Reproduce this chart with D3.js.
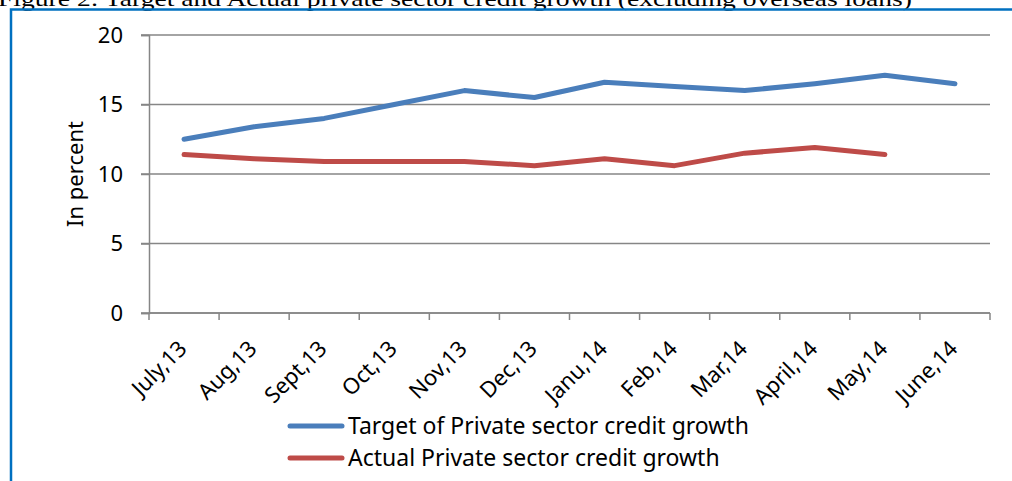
<!DOCTYPE html>
<html>
<head>
<meta charset="utf-8">
<script src="https://cdn.jsdelivr.net/npm/d3@7"></script>
<style>
  body { margin: 0; background: #fff; }
  svg { display: block; }
  .tick text { font-family: "Noto Sans", sans-serif; fill: #000; }
</style>
</head>
<body>
<svg width="1012" height="481"></svg>
<script>
// data
var months = ["July,13", "Aug,13", "Sept,13", "Oct,13", "Nov,13", "Dec,13",
              "Janu,14", "Feb,14", "Mar,14", "April,14", "May,14", "June,14"];
var target = [12.5, 13.4, 14.0, 15.0, 16.0, 15.5, 16.6, 16.3, 16.0, 16.5, 17.1, 16.5];
var actual = [11.4, 11.1, 10.9, 10.9, 10.9, 10.6, 11.1, 10.6, 11.5, 11.9, 11.4];
var yTicks = [0, 5, 10, 15, 20];
var seriesNames = ["Target of Private sector credit growth", "Actual Private sector credit growth"];
var colours = ["#4a7ebb", "#be4b48"];

var svg = d3.select("svg"),
    margin = { top: 35, right: 22, bottom: 168, left: 149 },
    width = +svg.attr("width") - margin.left - margin.right,
    height = +svg.attr("height") - margin.top - margin.bottom;

// caption cut off at the top of the page
svg.append("text")
    .attr("x", -2)
    .attr("y", 6)
    .attr("textLength", 914)
    .attr("lengthAdjust", "spacingAndGlyphs")
    .style("font-family", "'Liberation Serif', serif")
    .style("font-size", "22px")
    .text("Figure 2: Target and Actual private sector credit growth (excluding overseas loans)");

// blue frame (top and left)
svg.append("path")
    .attr("d", "M11,481V9.5H1012")
    .attr("fill", "none")
    .attr("stroke", "#0070c0")
    .attr("stroke-width", 2.5);

var g = svg.append("g")
    .attr("transform", "translate(" + margin.left + "," + margin.top + ")");

var x = d3.scaleBand().domain(months).range([0, width]);
var y = d3.scaleLinear().domain([0, 20]).range([height, 0]);

// gridlines
g.append("g")
    .selectAll("line")
    .data(yTicks)
    .enter().append("line")
    .attr("x1", -8)
    .attr("x2", width)
    .attr("y1", function (d) { return y(d); })
    .attr("y2", function (d) { return y(d); })
    .attr("stroke", "#868686")
    .attr("stroke-width", 1.5);

// y axis
var yAxis = g.append("g")
    .call(d3.axisLeft(y).tickValues(yTicks).tickSize(8).tickPadding(18));
yAxis.select(".domain").attr("stroke", "#868686").attr("stroke-width", 1.5);
yAxis.selectAll(".tick line").attr("stroke", "#868686").attr("stroke-width", 1.5);
yAxis.selectAll(".tick text").style("font-size", "22px");

// x axis: ticks at category boundaries
var bounds = months.map(function (m) { return x(m); }).concat([width]);
var xg = g.append("g").attr("transform", "translate(0," + height + ")");
xg.append("line")
    .attr("x1", 0).attr("x2", width)
    .attr("stroke", "#868686").attr("stroke-width", 1.5);
xg.selectAll(".xt")
    .data(bounds)
    .enter().append("line")
    .attr("class", "xt")
    .attr("x1", function (d) { return d; })
    .attr("x2", function (d) { return d; })
    .attr("y1", 0).attr("y2", 7)
    .attr("stroke", "#868686").attr("stroke-width", 1.5);
xg.selectAll(".xl")
    .data(months)
    .enter().append("text")
    .attr("class", "xl")
    .attr("text-anchor", "end")
    .attr("transform", function (d) {
        return "translate(" + (x(d) + x.bandwidth() / 2 + 4) + ",37) rotate(-45)";
    })
    .style("font-family", "'Noto Sans', sans-serif")
    .style("font-size", "22px")
    .text(function (d) { return d; });

// y label
svg.append("text")
    .attr("transform", "translate(83," + (margin.top + height / 2) + ") rotate(-90)")
    .attr("text-anchor", "middle")
    .style("font-family", "'Noto Sans', sans-serif")
    .style("font-size", "22px")
    .text("In percent");

// lines
var line = d3.line()
    .x(function (d, i) { return x(months[i]) + x.bandwidth() / 2; })
    .y(function (d) { return y(d); });

[target, actual].forEach(function (s, i) {
    g.append("path")
        .datum(s)
        .attr("fill", "none")
        .attr("stroke", colours[i])
        .attr("stroke-width", 5)
        .attr("stroke-linecap", "round")
        .attr("stroke-linejoin", "round")
        .attr("d", line);
});

// legend
var legend = svg.append("g").attr("transform", "translate(290,426)");
seriesNames.forEach(function (name, i) {
    var row = legend.append("g").attr("transform", "translate(0," + (i * 32) + ")");
    row.append("line")
        .attr("x1", 0).attr("x2", 52)
        .attr("stroke", colours[i])
        .attr("stroke-width", 5)
        .attr("stroke-linecap", "round");
    row.append("text")
        .attr("x", 58)
        .attr("dy", "0.35em")
        .style("font-family", "'Noto Sans', sans-serif")
        .style("font-size", "23px")
        .text(name);
});
</script>
</body>
</html>
